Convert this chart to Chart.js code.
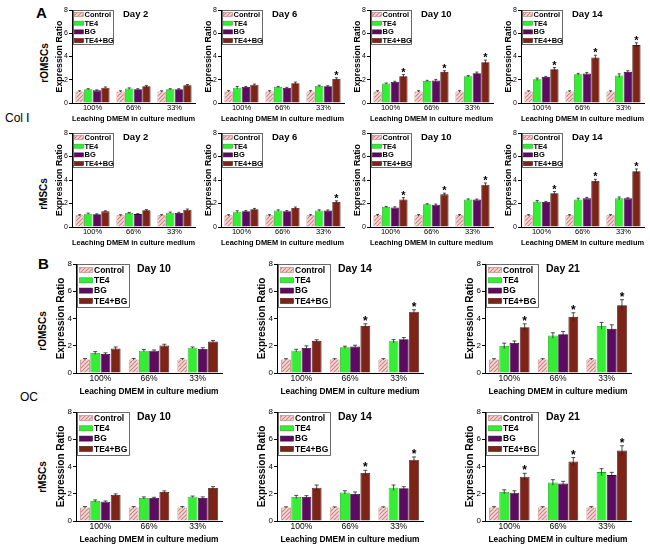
<!DOCTYPE html>
<html><head><meta charset="utf-8">
<script src="https://cdn.jsdelivr.net/npm/chart.js@4.4.0/dist/chart.umd.min.js"></script>
<style>
body{margin:0;background:#fff;width:650px;height:548px;position:relative;overflow:hidden;font-family:"Liberation Sans",Arial,sans-serif;}
canvas{position:absolute;}
.lbl{position:absolute;color:#000;white-space:nowrap;line-height:1;}
.rot{transform:translate(-50%,-50%) rotate(-90deg);font-weight:bold;font-size:10px;}
</style></head><body>
<div class="lbl" style="left:36px;top:5px;font-size:15px;font-weight:bold;">A</div>
<div class="lbl" style="left:38px;top:256px;font-size:15px;font-weight:bold;">B</div>
<div class="lbl" style="left:5px;top:112px;font-size:12px;">Col Ⅰ</div>
<div class="lbl" style="left:20px;top:391px;font-size:12px;">OC</div>
<div class="lbl rot" style="left:45px;top:63px;">rOMSCs</div>
<div class="lbl rot" style="left:44px;top:194px;">rMSCs</div>
<div class="lbl rot" style="left:43px;top:331px;">rOMSCs</div>
<div class="lbl rot" style="left:43px;top:477px;">rMSCs</div>
<script>
// ---------- DATA ----------
const categories = ['100%', '66%', '33%'];
const seriesNames = ['Control', 'TE4', 'BG', 'TE4+BG'];
const xTitle = 'Leaching DMEM in culture medium';
const yTitle = 'Expression Ratio';
const yTicks = [0, 2, 4, 6, 8];
const daysA = ['Day 2', 'Day 6', 'Day 10', 'Day 14'];
const daysB = ['Day 10', 'Day 14', 'Day 21'];

// Panel A (Col I), rOMSCs — rows: Control, TE4, BG, TE4+BG
const colI_rOMSCs_d2 = [[1, 1, 1], [1.18, 1.24, 1.18], [1.09, 1.18, 1.18], [1.32, 1.44, 1.53]];
const colI_rOMSCs_d2_err = [[.05, .05, .05], [.05, .06, .05], [.04, .05, .05], [.06, .07, .06]];
const colI_rOMSCs_d2_star = [0, 0, 0];
const colI_rOMSCs_d6 = [[1, 1, 1], [1.32, 1.38, 1.47], [1.38, 1.30, 1.44], [1.58, 1.70, 2.07]];
const colI_rOMSCs_d6_err = [[.06, .06, .06], [.10, .05, .06], [.05, .05, .05], [.05, .10, .10]];
const colI_rOMSCs_d6_star = [0, 0, 1];
const colI_rOMSCs_d10 = [[1, 1, 1], [1.67, 1.90, 2.30], [1.81, 1.93, 2.56], [2.30, 2.68, 3.51]];
const colI_rOMSCs_d10_err = [[.06, .06, .06], [.05, .05, .06], [.06, .10, .10], [.15, .10, .18]];
const colI_rOMSCs_d10_star = [1, 1, 1];
const colI_rOMSCs_d14 = [[1, 1, 1], [2.04, 2.47, 2.36], [2.24, 2.53, 2.68], [2.90, 3.91, 4.98]];
const colI_rOMSCs_d14_err = [[.05, .05, .05], [.10, .08, .15], [.05, .10, .10], [.15, .20, .20]];
const colI_rOMSCs_d14_star = [1, 1, 1];

// Panel A (Col I), rMSCs
const colI_rMSCs_d2 = [[1, 1, 1], [1.13, 1.19, 1.22], [1.08, 1.10, 1.20], [1.33, 1.42, 1.47]];
const colI_rMSCs_d2_err = [[.05, .05, .05], [.05, .05, .05], [.04, .04, .05], [.05, .06, .06]];
const colI_rMSCs_d2_star = [0, 0, 0];
const colI_rMSCs_d6 = [[1, 1, 1], [1.30, 1.40, 1.40], [1.35, 1.35, 1.40], [1.52, 1.62, 2.13]];
const colI_rMSCs_d6_err = [[.05, .05, .05], [.08, .06, .06], [.05, .05, .05], [.06, .08, .10]];
const colI_rMSCs_d6_star = [0, 0, 1];
const colI_rMSCs_d10 = [[1, 1, 1], [1.70, 1.93, 2.33], [1.67, 1.90, 2.33], [2.35, 2.78, 3.60]];
const colI_rMSCs_d10_err = [[.06, .06, .06], [.05, .05, .06], [.05, .05, .05], [.15, .10, .15]];
const colI_rMSCs_d10_star = [1, 1, 1];
const colI_rMSCs_d14 = [[1, 1, 1], [2.16, 2.35, 2.44], [2.13, 2.44, 2.44], [2.87, 3.91, 4.74]];
const colI_rMSCs_d14_err = [[.05, .05, .05], [.10, .10, .12], [.05, .08, .05], [.15, .15, .20]];
const colI_rMSCs_d14_star = [1, 1, 1];

// Panel B (OC), rOMSCs
const oc_rOMSCs_d10 = [[1, 1, 1], [1.47, 1.64, 1.86], [1.40, 1.64, 1.77], [1.79, 2.01, 2.31]];
const oc_rOMSCs_d10_err = [[.06, .06, .06], [.10, .08, .05], [.08, .05, .08], [.12, .10, .08]];
const oc_rOMSCs_d10_star = [0, 0, 0];
const oc_rOMSCs_d14 = [[1, 1, 1], [1.64, 1.89, 2.33], [1.84, 1.94, 2.48], [2.36, 3.46, 4.49]];
const oc_rOMSCs_d14_err = [[.05, .05, .05], [.10, .08, .12], [.15, .10, .12], [.08, .15, .15]];
const oc_rOMSCs_d14_star = [0, 1, 1];
const oc_rOMSCs_d21 = [[1, 1, 1], [1.99, 2.75, 3.46], [2.20, 2.85, 3.24], [3.36, 4.12, 4.98]];
const oc_rOMSCs_d21_err = [[.05, .05, .05], [.20, .20, .25], [.15, .20, .30], [.25, .30, .40]];
const oc_rOMSCs_d21_star = [1, 1, 1];

// Panel B (OC), rMSCs
const oc_rMSCs_d10 = [[1, 1, 1], [1.47, 1.69, 1.78], [1.42, 1.69, 1.69], [1.91, 2.13, 2.42]];
const oc_rMSCs_d10_err = [[.06, .06, .06], [.08, .08, .05], [.05, .05, .08], [.08, .08, .10]];
const oc_rMSCs_d10_star = [0, 0, 0];
const oc_rMSCs_d14 = [[1, 1, 1], [1.76, 2.10, 2.44], [1.76, 1.98, 2.40], [2.44, 3.52, 4.50]];
const oc_rMSCs_d14_err = [[.04, .04, .04], [.12, .12, .20], [.10, .15, .12], [.20, .20, .20]];
const oc_rMSCs_d14_star = [0, 1, 1];
const oc_rMSCs_d21 = [[1, 1, 1], [2.14, 2.83, 3.59], [2.07, 2.76, 3.37], [3.25, 4.36, 5.17]];
const oc_rMSCs_d21_err = [[.05, .05, .05], [.15, .20, .25], [.15, .15, .20], [.25, .30, .35]];
const oc_rMSCs_d21_star = [1, 1, 1];

// ---------- STYLE / LAYOUT ----------
const FAM = '"Liberation Sans", Arial, Helvetica, sans-serif';
const STY = {
  A: {yw:18, padTop:6, padRight:3, xh:20, plotW:123, xf:7.5, xpad:0.5, xtf:7.5, yf:7, ytf:8.8, cap:3, starF:11, tf:9.5, tdx:51, tdy:4.5,
      lgx:1, lgy:-0.5, lgw:40, lgh:34, lg0:4.5, lgdy:8.7, swx:1.5, sww:9, swh:4, txx:11.5, lgf:7.5},
  B: {yw:21, padTop:6, padRight:3, xh:24, plotW:146, xf:8.5, xpad:1, xtf:8.4, yf:8, ytf:10, cap:4, starF:12, tf:10.5, tdx:61, tdy:5,
      lgx:1, lgy:-0.5, lgw:52, lgh:43, lg0:6, lgdy:10.3, swx:2.5, sww:13, swh:5, txx:17, lgf:8.5}
};
const borders = ['#c07a7a', '#22aa22', '#3a003c', '#4a120a'];
const solid = [null, '#33ee33', '#5c0c5e', '#7c2418'];

function hatchCanvas() {
  const c = document.createElement('canvas'); c.width = 4; c.height = 4;
  const g = c.getContext('2d');
  g.fillStyle = '#f5dada'; g.fillRect(0, 0, 4, 4);
  g.strokeStyle = '#cc8080'; g.lineWidth = 1.1;
  g.beginPath();
  g.moveTo(0, 4); g.lineTo(4, 0);
  g.moveTo(-1, 1); g.lineTo(1, -1);
  g.moveTo(3, 5); g.lineTo(5, 3);
  g.stroke();
  return c;
}
const HATCH = hatchCanvas();

function makeChart(st, ax, y8, y0, day, vals, errs, stars) {
  const canvas = document.createElement('canvas');
  const cl = ax - st.yw, ct = y8 - st.padTop;
  const cw = st.yw + st.plotW + st.padRight;
  const ch = (y0 - y8) + st.padTop + st.xh;
  canvas.width = cw; canvas.height = ch;
  canvas.style.left = cl + 'px'; canvas.style.top = ct + 'px';
  canvas.style.width = cw + 'px'; canvas.style.height = ch + 'px';
  document.body.appendChild(canvas);
  const ctx0 = canvas.getContext('2d');
  const pat = ctx0.createPattern(HATCH, 'repeat');
  const fills = [pat, solid[1], solid[2], solid[3]];

  const errPlugin = { id: 'errbars', afterDatasetsDraw(chart) {
    const ctx = chart.ctx, ys = chart.scales.y;
    ctx.save();
    ctx.strokeStyle = '#222'; ctx.lineWidth = 0.8;
    chart.data.datasets.forEach((ds, i) => {
      const meta = chart.getDatasetMeta(i);
      meta.data.forEach((bar, j) => {
        const v = ds.data[j], e = errs[i][j];
        const yt = ys.getPixelForValue(v + e), yb = ys.getPixelForValue(v - e);
        ctx.beginPath();
        ctx.moveTo(bar.x, yb); ctx.lineTo(bar.x, yt);
        ctx.moveTo(bar.x - st.cap / 2, yt); ctx.lineTo(bar.x + st.cap / 2, yt);
        ctx.stroke();
      });
    });
    ctx.fillStyle = '#000'; ctx.font = 'bold ' + st.starF + 'px ' + FAM;
    ctx.textAlign = 'center'; ctx.textBaseline = 'alphabetic';
    const m3 = chart.getDatasetMeta(3);
    m3.data.forEach((bar, j) => {
      if (stars[j]) {
        const yt = ys.getPixelForValue(chart.data.datasets[3].data[j] + errs[3][j]);
        ctx.fillText('*', bar.x, yt + 1);
      }
    });
    ctx.restore();
  }};

  const legendPlugin = { id: 'boxlegend', afterDraw(chart) {
    const ctx = chart.ctx, ca = chart.chartArea;
    const x0 = Math.round(ca.left + st.lgx), y0b = Math.round(ca.top + st.lgy);
    ctx.save();
    ctx.fillStyle = '#fff'; ctx.fillRect(x0, y0b, st.lgw, st.lgh);
    ctx.strokeStyle = '#444'; ctx.lineWidth = 0.8; ctx.strokeRect(x0 + 0.5, y0b + 0.5, st.lgw, st.lgh);
    chart.data.datasets.forEach((ds, i) => {
      const cy = y0b + st.lg0 + i * st.lgdy;
      ctx.fillStyle = ds.backgroundColor;
      ctx.fillRect(x0 + st.swx, cy - st.swh / 2, st.sww, st.swh);
      ctx.strokeStyle = ds.borderColor; ctx.lineWidth = 0.6;
      ctx.strokeRect(x0 + st.swx, cy - st.swh / 2, st.sww, st.swh);
      ctx.fillStyle = '#000'; ctx.font = 'bold ' + st.lgf + 'px ' + FAM;
      ctx.textAlign = 'left'; ctx.textBaseline = 'middle';
      ctx.fillText(ds.label, x0 + st.txx, cy + 0.5);
    });
    ctx.fillStyle = '#000'; ctx.font = 'bold ' + st.tf + 'px ' + FAM;
    ctx.textAlign = 'left'; ctx.textBaseline = 'middle';
    ctx.fillText(day, ca.left + st.tdx, ca.top + st.tdy);
    ctx.restore();
  }};

  return new Chart(canvas, {
    type: 'bar',
    data: {
      labels: categories,
      datasets: seriesNames.map((n, i) => ({
        label: n, data: vals[i], backgroundColor: fills[i], borderColor: borders[i], borderWidth: 0.8,
        categoryPercentage: 0.84, barPercentage: 0.96
      }))
    },
    options: {
      responsive: false, animation: false, devicePixelRatio: 1,
      layout: { padding: { top: st.padTop, right: st.padRight, left: 0, bottom: 0 } },
      plugins: { legend: { display: false }, tooltip: { enabled: false } },
      scales: {
        x: {
          offset: true,
          border: { display: true, color: '#000', width: 1 },
          grid: { display: true, drawOnChartArea: false, drawTicks: false, color: '#000' },
          ticks: { font: { family: FAM, size: st.xf }, color: '#000', padding: st.xpad, maxRotation: 0, autoSkip: false },
          title: { display: true, text: xTitle, color: '#000', font: { family: FAM, size: st.xtf, weight: 'bold' }, padding: { top: 0, bottom: 0 } },
          afterFit(s) { s.height = st.xh; }
        },
        y: {
          min: 0, max: 8,
          border: { display: true, color: '#000', width: 1 },
          grid: { display: true, drawOnChartArea: false, drawTicks: true, tickLength: 3, color: '#000' },
          ticks: { font: { family: FAM, size: st.yf }, color: '#000', padding: 1 },
          afterBuildTicks(s) { s.ticks = yTicks.map(v => ({ value: v })); },
          title: { display: true, text: yTitle, color: '#000', font: { family: FAM, size: st.ytf, weight: 'bold' }, padding: { top: 0, bottom: 0 } },
          afterFit(s) { s.width = st.yw; }
        }
      }
    },
    plugins: [errPlugin, legendPlugin]
  });
}

// Panel A
const axA = [72, 221, 370, 521];
const rowA1 = [10, 103], rowA2 = [133, 227];
const A1 = [[colI_rOMSCs_d2, colI_rOMSCs_d2_err, colI_rOMSCs_d2_star],
            [colI_rOMSCs_d6, colI_rOMSCs_d6_err, colI_rOMSCs_d6_star],
            [colI_rOMSCs_d10, colI_rOMSCs_d10_err, colI_rOMSCs_d10_star],
            [colI_rOMSCs_d14, colI_rOMSCs_d14_err, colI_rOMSCs_d14_star]];
const A2 = [[colI_rMSCs_d2, colI_rMSCs_d2_err, colI_rMSCs_d2_star],
            [colI_rMSCs_d6, colI_rMSCs_d6_err, colI_rMSCs_d6_star],
            [colI_rMSCs_d10, colI_rMSCs_d10_err, colI_rMSCs_d10_star],
            [colI_rMSCs_d14, colI_rMSCs_d14_err, colI_rMSCs_d14_star]];
A1.forEach((d, k) => makeChart(STY.A, axA[k], rowA1[0], rowA1[1], daysA[k], d[0], d[1], d[2]));
A2.forEach((d, k) => makeChart(STY.A, axA[k], rowA2[0], rowA2[1], daysA[k], d[0], d[1], d[2]));

// Panel B
const axB = [76, 277, 485];
const rowB1 = [264, 373], rowB2 = [412, 521];
const B1 = [[oc_rOMSCs_d10, oc_rOMSCs_d10_err, oc_rOMSCs_d10_star],
            [oc_rOMSCs_d14, oc_rOMSCs_d14_err, oc_rOMSCs_d14_star],
            [oc_rOMSCs_d21, oc_rOMSCs_d21_err, oc_rOMSCs_d21_star]];
const B2 = [[oc_rMSCs_d10, oc_rMSCs_d10_err, oc_rMSCs_d10_star],
            [oc_rMSCs_d14, oc_rMSCs_d14_err, oc_rMSCs_d14_star],
            [oc_rMSCs_d21, oc_rMSCs_d21_err, oc_rMSCs_d21_star]];
B1.forEach((d, k) => makeChart(STY.B, axB[k], rowB1[0], rowB1[1], daysB[k], d[0], d[1], d[2]));
B2.forEach((d, k) => makeChart(STY.B, axB[k], rowB2[0], rowB2[1], daysB[k], d[0], d[1], d[2]));
</script>
</body></html>
